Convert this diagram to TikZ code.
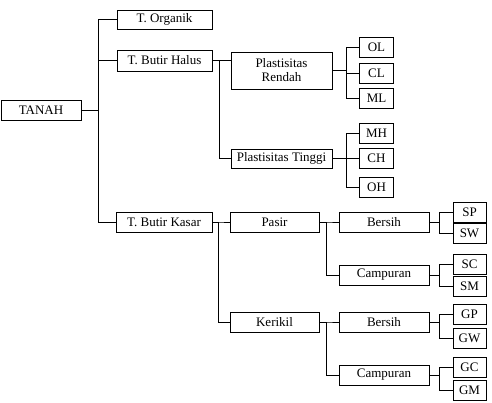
\documentclass[tikz,border=0pt]{standalone}
\usepackage{fontspec}
\setmainfont{Liberation Serif}
\begin{document}
\begin{tikzpicture}[x=1pt,y=-1pt,
  box/.style={draw, line width=0.9pt, inner sep=0pt, minimum height=20pt, font=\fontsize{13}{14}\selectfont},
  small/.style={box, minimum width=34pt},
  conn/.style={line width=0.8pt}]
\useasboundingbox (0,0) rectangle (492,402);
% level 0/1
\node[box, minimum width=80pt] (tanah) at (41,110) {TANAH};
\node[box, minimum width=95pt, minimum height=19pt] (org) at (164.5,19.5) {T. Organik};
\node[box, minimum width=95pt, minimum height=21pt] (halus) at (164.5,60.5) {T. Butir Halus};
\node[box, minimum width=96pt] (kasar) at (164,222) {T. Butir Kasar};
% fine grained
\node[box, minimum width=101pt, minimum height=37pt, align=center] (rendah) at (281.5,70.5) {Plastisitas\\Rendah};
\node[box, minimum width=101pt, minimum height=19pt] (tinggi) at (281.5,158.5) {Plastisitas Tinggi};
\node[small] (ol) at (376.5,47) {OL};
\node[small] (cl) at (376.5,73) {CL};
\node[small] (ml) at (376.5,98) {ML};
\node[small] (mh) at (376.5,133.5) {MH};
\node[small] (ch) at (376.5,158.5) {CH};
\node[small] (oh) at (376.5,187) {OH};
% coarse grained
\node[box, minimum width=89pt] (pasir) at (274.5,222) {Pasir};
\node[box, minimum width=89pt] (kerikil) at (274.5,322) {Kerikil};
\node[box, minimum width=90pt] (bersihA) at (384,222) {Bersih};
\node[box, minimum width=90pt] (campA) at (384,275) {Campuran};
\node[box, minimum width=90pt] (bersihB) at (384,322) {Bersih};
\node[box, minimum width=90pt] (campB) at (384,375) {Campuran};
\node[small, minimum width=33pt] (sp) at (469.5,212) {SP};
\node[small, minimum width=33pt] (sw) at (469.5,233) {SW};
\node[small, minimum width=33pt] (sc) at (469.5,264) {SC};
\node[small, minimum width=33pt] (sm) at (469.5,286) {SM};
\node[small, minimum width=33pt] (gp) at (469.5,314.5) {GP};
\node[small, minimum width=33pt] (gw) at (469.5,338) {GW};
\node[small, minimum width=33pt] (gc) at (469.5,367.5) {GC};
\node[small, minimum width=33pt] (gm) at (469.5,390) {GM};
% connectors
\foreach \c in {org,halus,kasar} \draw[conn] (tanah.east) -- ++(17,0) |- (\c.west);
\draw[conn] (halus.east) -- (rendah.west |- halus.east);
\draw[conn] (halus.east) -- ++(7,0) |- (tinggi.west);
\foreach \c in {ol,cl,ml} \draw[conn] (rendah.east) -- ++(14,0) |- (\c.west);
\foreach \c in {mh,ch,oh} \draw[conn] (tinggi.east) -- ++(14,0) |- (\c.west);
\foreach \c in {pasir,kerikil} \draw[conn] (kasar.east) -- ++(6,0) |- (\c.west);
\foreach \c in {bersihA,campA} \draw[conn] (pasir.east) -- ++(7,0) |- (\c.west);
\foreach \c in {bersihB,campB} \draw[conn] (kerikil.east) -- ++(7,0) |- (\c.west);
\foreach \c in {sp,sw} \draw[conn] (bersihA.east) -- ++(10,0) |- (\c.west);
\foreach \c in {sc,sm} \draw[conn] (campA.east) -- ++(10,0) |- (\c.west);
\foreach \c in {gp,gw} \draw[conn] (bersihB.east) -- ++(10,0) |- (\c.west);
\foreach \c in {gc,gm} \draw[conn] (campB.east) -- ++(10,0) |- (\c.west);
\end{tikzpicture}
\end{document}
